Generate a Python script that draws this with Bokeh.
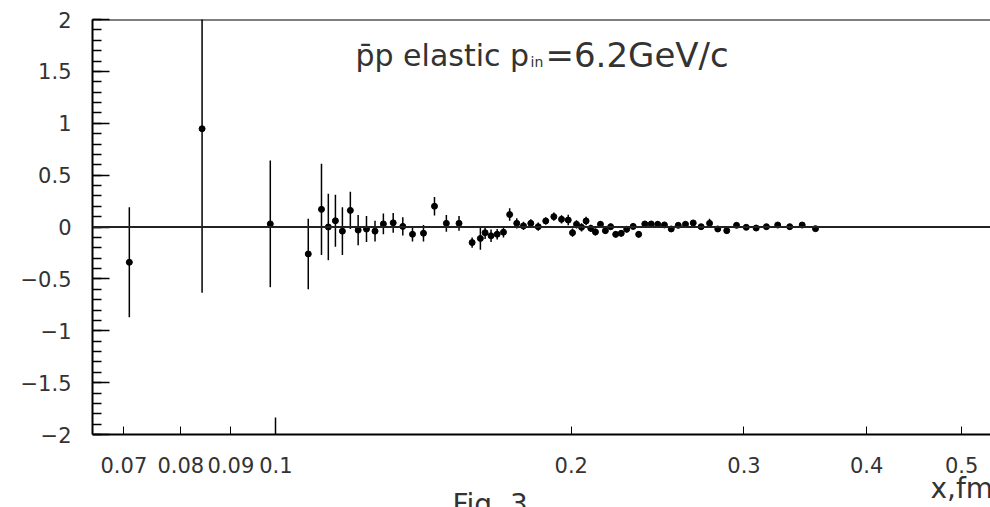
from bokeh.plotting import figure
from bokeh.models import (ColumnDataSource, FixedTicker, SingleIntervalTicker, Span, Label,
                          CustomJSTickFormatter, Range1d)
from bokeh.embed import file_html
from bokeh.resources import INLINE

# ---- data ----
x_fm = [0.0709, 0.0841, 0.0987, 0.1079, 0.1113, 0.1131, 0.1150, 0.1169, 0.1191, 0.1213,
        0.1237, 0.1262, 0.1287, 0.1317, 0.1347, 0.1378, 0.1414, 0.1451, 0.1492, 0.1537,
        0.1585, 0.1616, 0.1634, 0.1657, 0.1681, 0.1706, 0.1731, 0.1760, 0.1788, 0.1819,
        0.1851, 0.1884, 0.1920, 0.1955, 0.1986, 0.2006, 0.2025, 0.2049, 0.2071, 0.2094,
        0.2117, 0.2142, 0.2167, 0.2194, 0.2220, 0.2249, 0.2278, 0.2313, 0.2343, 0.2377,
        0.2413, 0.2450, 0.2489, 0.2529, 0.2571, 0.2615, 0.2663, 0.2713, 0.2767, 0.2821,
        0.2881, 0.2948, 0.3016, 0.3087, 0.3162, 0.3247, 0.3340, 0.3439, 0.3548]
y_val = [-0.34, 0.947, 0.03, -0.26, 0.17, 0.00, 0.06, -0.04, 0.16, -0.03,
         -0.02, -0.04, 0.03, 0.04, 0.006, -0.07, -0.06, 0.20, 0.035, 0.035,
         -0.15, -0.11, -0.055, -0.085, -0.07, -0.05, 0.12, 0.035, 0.01, 0.035,
         0.003, 0.058, 0.10, 0.074, 0.067, -0.055, 0.026, -0.003, 0.058, -0.013,
         -0.048, 0.026, -0.035, 0.003, -0.071, -0.061, -0.022, 0.006, -0.071, 0.029,
         0.029, 0.026, 0.02, -0.019, 0.016, 0.026, 0.039, 0.003, 0.035, -0.019,
         -0.035, 0.016, -0.003, -0.01, 0.003, 0.019, 0.003, 0.019, -0.016]
y_err = [0.53, 1.58, 0.61, 0.34, 0.44, 0.32, 0.25, 0.23, 0.18, 0.145,
         0.125, 0.10, 0.10, 0.095, 0.087, 0.07, 0.08, 0.09, 0.08, 0.07,
         0.05, 0.11, 0.06, 0.06, 0.05, 0.05, 0.06, 0.05, 0.04, 0.04,
         0.04, 0.035, 0.04, 0.04, 0.05, 0.04, 0.04, 0.04, 0.04, 0.035,
         0.035, 0.03, 0.03, 0.03, 0.03, 0.03, 0.03, 0.03, 0.03, 0.03,
         0.03, 0.03, 0.025, 0.025, 0.025, 0.025, 0.025, 0.025, 0.045, 0.025,
         0.025, 0.025, 0.02, 0.02, 0.02, 0.02, 0.02, 0.02, 0.02]

x_tick_labels = [0.07, 0.08, 0.09, 0.1, 0.2, 0.3, 0.4, 0.5]
x_decade_ticks = [0.1]
x_limits = (0.06503, 0.5350)
y_axis_bounds = (-2.0, 2.0)
y_view = (-2.7036, 2.0)   # extra room below the axis for the bottom texts

title_main = "p\u0304p elastic p"
title_sub = "in"
title_rest = "=6.2GeV/c"
x_label = "x,fm"
fig_label = "Fig. 3"

FONT = "DejaVu Sans"
TXT = "#333333"

src = ColumnDataSource(dict(
    x=x_fm, y=y_val,
    lo=[v - e for v, e in zip(y_val, y_err)],
    hi=[v + e for v, e in zip(y_val, y_err)],
))

p = figure(width=990, height=507, x_axis_type="log",
           x_range=Range1d(*x_limits), y_range=Range1d(*y_view),
           output_backend="svg", toolbar_location=None,
           min_border_left=92, min_border_right=0, min_border_top=19, min_border_bottom=0)
p.outline_line_color = None
p.grid.visible = False
p.background_fill_color = "white"
p.border_fill_color = "white"

# x axis, pinned at y = -2
ax = p.xaxis[0]
ax.fixed_location = y_axis_bounds[0]
ax.ticker = FixedTicker(ticks=x_tick_labels, minor_ticks=x_decade_ticks)
ax.formatter = CustomJSTickFormatter(code="return String(Number(tick.toPrecision(3)));")
ax.axis_line_width = 2
ax.axis_line_color = "black"
ax.major_tick_in = 8
ax.major_tick_out = 0
ax.minor_tick_in = 17
ax.minor_tick_out = 0
ax.major_tick_line_width = 1
ax.minor_tick_line_width = 1.5
ax.major_label_standoff = 22
ax.major_label_text_font = FONT
ax.major_label_text_font_size = "21px"
ax.major_label_text_color = TXT

# y axis
ay = p.yaxis[0]
ay.bounds = y_axis_bounds
ay.ticker = SingleIntervalTicker(interval=0.5, num_minor_ticks=5)
ay.formatter = CustomJSTickFormatter(
    code="const s = String(Number(Math.abs(tick).toPrecision(3))); return tick < 0 ? '\u2212' + s : s;")
ay.axis_line_width = 2
ay.axis_line_color = "black"
ay.major_tick_in = 17
ay.major_tick_out = 0
ay.minor_tick_in = 9
ay.minor_tick_out = 0
ay.major_tick_line_width = 1.5
ay.minor_tick_line_width = 1.5
ay.major_label_standoff = 21
ay.major_label_text_font = FONT
ay.major_label_text_font_size = "21px"
ay.major_label_text_color = TXT

# frame top line and zero line
p.add_layout(Span(location=y_axis_bounds[1], dimension="width", line_color="black", line_width=2))
p.add_layout(Span(location=0, dimension="width", line_color="#222222", line_width=2))

# data
p.segment(x0="x", y0="lo", x1="x", y1="hi", source=src, line_color="black", line_width=1.5)
p.scatter(x="x", y="y", source=src, size=6, color="black")

# texts (screen px from frame's left/bottom)
def lab(text, x, y, size):
    p.add_layout(Label(x=x, y=y, x_units="screen", y_units="screen", text=text,
                       text_font=FONT, text_font_size=size, text_color=TXT,
                       text_baseline="alphabetic", text_align="left"))

lab(title_main, 263, 452, "30px")
lab(title_sub, 438, 446, "14px")
lab(title_rest, 453, 453, "34px")
lab(x_label, 838, 19, "28px")
lab(fig_label, 360, 3, "28px")

open("out.html", "w").write(file_html(p, INLINE))
